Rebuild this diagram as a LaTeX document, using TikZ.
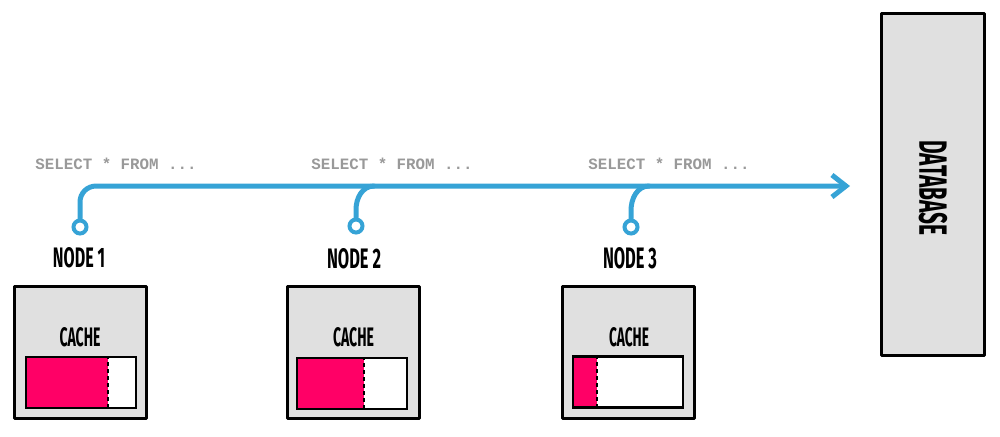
\documentclass[tikz,border=0pt]{standalone}
\usepackage{fontspec}
\usetikzlibrary{arrows.meta}
\newfontfamily\handfont{Fira Sans}
\newfontfamily\sqlfont{Liberation Mono}
\definecolor{boxgray}{HTML}{E0E0E0}
\definecolor{lineblue}{HTML}{36A3D6}
\definecolor{cachepink}{HTML}{FF0066}
\definecolor{sqlgray}{HTML}{999999}
\newcommand{\hand}[3]{\resizebox{#1}{#2}{\handfont\bfseries #3}}
\begin{document}
\begin{tikzpicture}[x=0.5pt,y=-0.5pt,
  box/.style={draw=black, line width=1.5pt, line join=round, fill=boxgray, minimum width=66pt, minimum height=66pt, inner sep=0pt},
  bar/.style={draw=black, line width=1.2pt, fill=white, minimum width=55pt, minimum height=25.5pt, inner sep=0pt,
    path picture={
      \fill[cachepink] (path picture bounding box.south west) rectangle ([xshift=#1]path picture bounding box.north west);
      \draw[black, dashed, dash pattern=on 2pt off 1.5pt, line width=1pt] ([xshift=#1]path picture bounding box.south west) -- ([xshift=#1]path picture bounding box.north west);}},
  pin/.style={circle, draw=lineblue, line width=2pt, fill=white, minimum size=6.5pt, inner sep=0pt},
  flow/.style={draw=lineblue, line width=2.5pt, line cap=round},
  sql/.style={text=sqlgray, font=\sqlfont\bfseries\fontsize{7.9pt}{9pt}\selectfont, inner sep=0pt},
  lbl/.style={inner sep=0pt}]
\useasboundingbox (0,0) rectangle (1000,436);

% database
\node[box, minimum width=51.5pt, minimum height=171pt] (db) at (932.5,184) {};
\node[lbl, rotate=-90] (dbt) at (933,188) {\hand{47.5pt}{14pt}{DATABASE}};

% cache boxes
\node[box] (b1) at (80,352) {};
\node[box] (b2) at (353,352) {};
\node[box] (b3) at (628.5,352) {};
\node[bar=41pt] (bar1) at (81,382.5) {};
\node[bar=33.5pt] (bar2) at (352,383.5) {};
\node[bar=12pt] (bar3) at (628,382) {};
\node[lbl] (ct1) at (80,337.5) {\hand{20.5pt}{9.5pt}{CACHE}};
\node[lbl] (ct2) at (353.5,337.5) {\hand{20.5pt}{9.5pt}{CACHE}};
\node[lbl] (ct3) at (629,337) {\hand{20pt}{9.5pt}{CACHE}};

% node labels
\node[lbl] (nl1) at (79,258) {\hand{26pt}{10pt}{NODE 1}};
\node[lbl] (nl2) at (354,259) {\hand{27pt}{10pt}{NODE 2}};
\node[lbl] (nl3) at (630,258.5) {\hand{27pt}{10.5pt}{NODE 3}};

% sql texts
\node[sql] (s1) at (116,164) {SELECT * FROM ...};
\node[sql] (s2) at (392,164) {SELECT * FROM ...};
\node[sql] (s3) at (669,164) {SELECT * FROM ...};

% flow
\coordinate (end) at (850,186);
\coordinate (j2) at (374,186);
\coordinate (j3) at (649,186);
\node[pin] (c1) at (80,227) {};
\node[pin] (c2) at (356,226) {};
\node[pin] (c3) at (631,227) {};
\draw[flow, -{Straight Barb[length=7pt,width=11pt,line width=2.5pt]}, rounded corners=8pt] (c1.north) |- (end);
\draw[flow] (c2.north) -- ++(0,-8) to[out=90,in=180] (j2);
\draw[flow] (c3.north) -- ++(0,-8) to[out=90,in=180] (j3);
\end{tikzpicture}
\end{document}
